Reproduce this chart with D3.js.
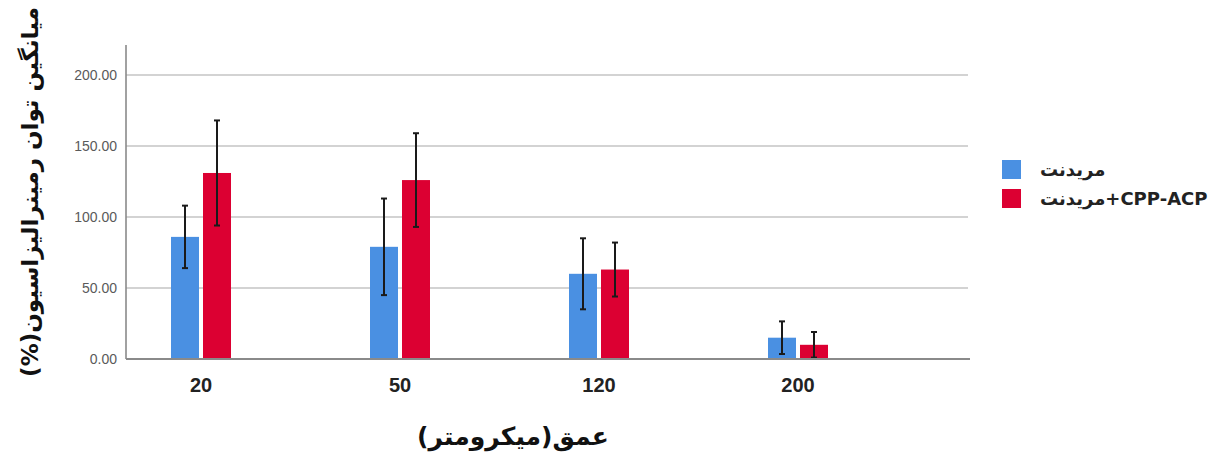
<!DOCTYPE html>
<html>
<head>
<meta charset="utf-8">
<script src="https://cdn.jsdelivr.net/npm/d3@7"></script>
<style>
  body { margin: 0; background: #fff; }
</style>
</head>
<body>
<div id="canvas"></div>
<script>
"use strict"

/* Size of the canvas */
let svgWidth = 1231;
let svgHeight = 453;

/* Data */
let depths = ["20", "50", "120", "200"];
let seriesNames = ["مریدنت", "مریدنت+CPP-ACP"];
let seriesColors = ["#4a90e2", "#dc0032"];
let meridentMeans = [86, 79, 60, 15];
let meridentErrors = [22, 34, 25, 11.5];
let cppMeans = [131, 126, 63, 10];
let cppErrors = [37, 33, 19, 9];
let yTicks = [0, 50, 100, 150, 200];

let svg = d3.select("#canvas")
    .append("svg")
    .attr("width", svgWidth)
    .attr("height", svgHeight)
    .style("display", "block");

/* Scales */
let xScale = d3.scalePoint()
    .domain(depths)
    .range([201, 798]);

let yScale = d3.scaleLinear()
    .domain([0, 200])
    .range([359, 75]);

let barWidth = 28;
let barGap = 4;

/* Grid lines */
svg.selectAll(".grid")
    .data(yTicks.filter(d => d > 0))
    .join("line")
    .attr("class", "grid")
    .attr("x1", 126)
    .attr("x2", 968)
    .attr("y1", d => yScale(d))
    .attr("y2", d => yScale(d))
    .attr("stroke", "#c4c4c4")
    .attr("stroke-width", 1.6);

/* Y tick labels */
svg.selectAll(".ytick")
    .data(yTicks)
    .join("text")
    .attr("class", "ytick")
    .attr("x", 117)
    .attr("y", d => yScale(d))
    .attr("dy", "0.35em")
    .attr("text-anchor", "end")
    .style("font-family", "Liberation Sans, Arial, sans-serif")
    .style("font-size", "14px")
    .attr("fill", "#5a5a5a")
    .text(d => d3.format(".2f")(d));

/* Bars, one group per series */
let series = [
    { name: seriesNames[0], color: seriesColors[0], means: meridentMeans, errors: meridentErrors, offset: -barGap / 2 - barWidth },
    { name: seriesNames[1], color: seriesColors[1], means: cppMeans, errors: cppErrors, offset: barGap / 2 }
];

series.forEach(function (s) {
    let rows = depths.map((d, i) => ({ depth: d, mean: s.means[i], err: s.errors[i] }));

    svg.selectAll(null)
        .data(rows)
        .join("rect")
        .attr("x", d => xScale(d.depth) + s.offset)
        .attr("y", d => yScale(d.mean))
        .attr("width", barWidth)
        .attr("height", d => yScale(0) - yScale(d.mean))
        .attr("fill", s.color);

    /* Error bars */
    let cx = d => xScale(d.depth) + s.offset + barWidth / 2;
    svg.selectAll(null)
        .data(rows)
        .join("line")
        .attr("x1", cx)
        .attr("x2", cx)
        .attr("y1", d => yScale(d.mean + d.err))
        .attr("y2", d => yScale(Math.max(0, d.mean - d.err)))
        .attr("stroke", "#1a1a1a")
        .attr("stroke-width", 2);

    [d => d.mean + d.err, d => Math.max(0, d.mean - d.err)].forEach(function (end) {
        svg.selectAll(null)
            .data(rows)
            .join("line")
            .attr("x1", d => cx(d) - 3)
            .attr("x2", d => cx(d) + 3)
            .attr("y1", d => yScale(end(d)))
            .attr("y2", d => yScale(end(d)))
            .attr("stroke", "#1a1a1a")
            .attr("stroke-width", 2);
    });
});

/* Axis lines */
svg.append("line")
    .attr("x1", 126)
    .attr("x2", 126)
    .attr("y1", 45)
    .attr("y2", yScale(0))
    .attr("stroke", "#8a8a8a")
    .attr("stroke-width", 1.6);

svg.append("line")
    .attr("x1", 126)
    .attr("x2", 970)
    .attr("y1", yScale(0))
    .attr("y2", yScale(0))
    .attr("stroke", "#8a8a8a")
    .attr("stroke-width", 2);

/* X tick labels */
svg.selectAll(".xtick")
    .data(depths)
    .join("text")
    .attr("class", "xtick")
    .attr("x", d => xScale(d))
    .attr("y", 392)
    .attr("text-anchor", "middle")
    .style("font-family", "Liberation Sans, Arial, sans-serif")
    .style("font-size", "20px")
    .style("font-weight", "bold")
    .attr("fill", "#222")
    .text(d => d);

/* Axis titles (right-to-left text) */
svg.append("text")
    .attr("x", 513)
    .attr("y", 445)
    .attr("text-anchor", "middle")
    .attr("direction", "rtl")
    .style("unicode-bidi", "embed")
    .style("font-family", "DejaVu Sans, sans-serif")
    .style("font-size", "25px")
    .style("font-weight", "bold")
    .attr("fill", "#111")
    .text("عمق(میکرومتر)");

svg.append("text")
    .attr("transform", "translate(38,192) rotate(-90)")
    .attr("text-anchor", "middle")
    .attr("direction", "rtl")
    .style("unicode-bidi", "embed")
    .style("font-family", "DejaVu Sans, sans-serif")
    .style("font-size", "23px")
    .style("font-weight", "bold")
    .attr("fill", "#111")
    .text("میانگین توان رمینرالیزاسیون(%)");

/* Legend */
series.forEach(function (s, i) {
    svg.append("rect")
        .attr("x", 1002)
        .attr("y", 160 + i * 29)
        .attr("width", 19)
        .attr("height", 19)
        .attr("fill", s.color);

    svg.append("text")
        .attr("x", 1040)
        .attr("y", 170 + i * 29)
        .attr("dy", "0.35em")
        .attr("text-anchor", "start")
        .style("font-family", "DejaVu Sans, sans-serif")
        .style("font-size", "18px")
        .style("font-weight", "bold")
        .attr("fill", "#222")
        .text(s.name);
});
</script>
</body>
</html>
